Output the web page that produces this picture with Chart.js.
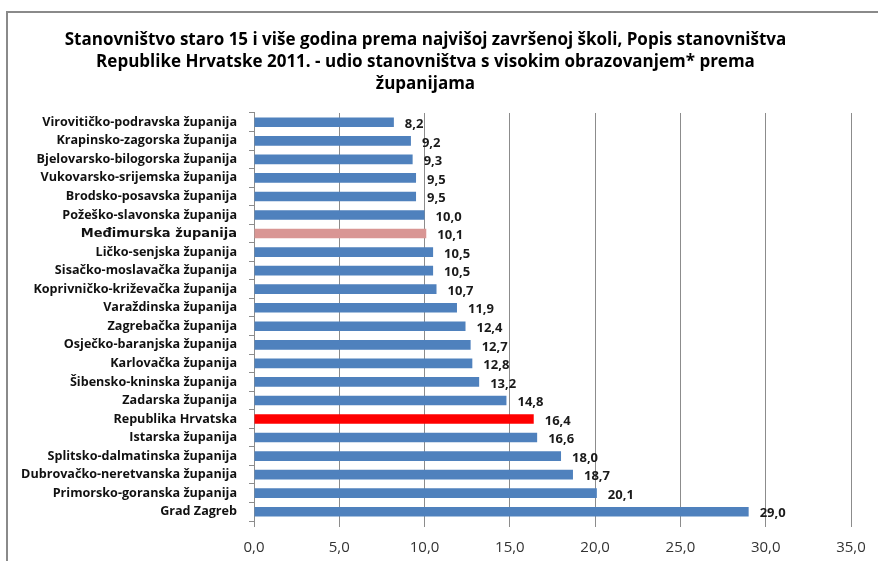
<!DOCTYPE html>
<html>
<head>
<meta charset="utf-8">
<script src="https://cdn.jsdelivr.net/npm/chart.js@4.4.0/dist/chart.umd.min.js"></script>
<style>
  html, body { margin: 0; padding: 0; background: #fff; overflow: hidden; }
  #wrap { position: relative; width: 878px; height: 561px; }
  #frame {
    position: absolute; left: 6px; top: 11px; width: 900px; height: 600px;
    border-left: 2px solid #8a8a8a; border-top: 2px solid #8a8a8a;
    pointer-events: none;
  }
</style>
</head>
<body>
<div id="wrap">
  <canvas id="grafico" width="878" height="561"></canvas>
  <div id="frame"></div>
</div>
<script>
const titleLines = [
  "Stanovništvo staro 15 i više godina prema najvišoj završenoj školi, Popis stanovništva",
  "Republike Hrvatske 2011. - udio stanovništva s visokim obrazovanjem* prema",
  "županijama"
];

const zupanije = [
  "Virovitičko-podravska županija",
  "Krapinsko-zagorska županija",
  "Bjelovarsko-bilogorska županija",
  "Vukovarsko-srijemska županija",
  "Brodsko-posavska županija",
  "Požeško-slavonska županija",
  "Međimurska županija",
  "Ličko-senjska županija",
  "Sisačko-moslavačka županija",
  "Koprivničko-križevačka županija",
  "Varaždinska županija",
  "Zagrebačka županija",
  "Osječko-baranjska županija",
  "Karlovačka županija",
  "Šibensko-kninska županija",
  "Zadarska županija",
  "Republika Hrvatska",
  "Istarska županija",
  "Splitsko-dalmatinska županija",
  "Dubrovačko-neretvanska županija",
  "Primorsko-goranska županija",
  "Grad Zagreb"
];

const udio = [8.2, 9.2, 9.3, 9.5, 9.5, 10.0, 10.1, 10.5, 10.5, 10.7, 11.9, 12.4, 12.7, 12.8, 13.2, 14.8, 16.4, 16.6, 18.0, 18.7, 20.1, 29.0];

const xTicks = [0, 5, 10, 15, 20, 25, 30, 35];

const fmt = v => Number(v).toFixed(1).replace(".", ",");

const barColors = zupanije.map(name => {
  if (name === "Republika Hrvatska") return "#ff0000";
  if (name === "Međimurska županija") return "#d99694";
  return "#4f81bd";
});

// value labels to the right of each bar
const valueLabels = {
  id: "valueLabels",
  afterDatasetsDraw(chart) {
    const ctx = chart.ctx;
    const meta = chart.getDatasetMeta(0);
    ctx.save();
    ctx.font = "bold 13px 'Open Sans'";
    ctx.fillStyle = "#1a1a1a";
    ctx.textAlign = "left";
    ctx.textBaseline = "middle";
    meta.data.forEach((bar, i) => {
      ctx.fillText(fmt(udio[i]), bar.x + 11, bar.y + 2);
    });
    ctx.restore();
  }
};

new Chart(document.getElementById("grafico"), {
  type: "bar",
  data: {
    labels: zupanije,
    datasets: [{
      data: udio,
      backgroundColor: barColors,
      barPercentage: 0.52,
      categoryPercentage: 1
    }]
  },
  options: {
    indexAxis: "y",
    responsive: false,
    animation: false,
    layout: { padding: { left: 0, right: 27, top: 0, bottom: 0 } },
    plugins: {
      legend: { display: false },
      tooltip: { enabled: false },
      title: {
        display: true,
        text: titleLines,
        color: "#000",
        font: { family: "'Open Sans'", size: 17, weight: "bold", lineHeight: 1.294 },
        padding: { top: 29, bottom: 18 }
      }
    },
    scales: {
      x: {
        min: 0,
        max: 35,
        afterBuildTicks(scale) {
          scale.ticks = xTicks.map(v => ({ value: v }));
        },
        afterFit(scale) { scale.height = 40; },
        border: { display: false },
        grid: { color: "#8c8c8c", lineWidth: 1, tickLength: 6 },
        ticks: {
          callback: v => fmt(v),
          color: "#333",
          padding: 12,
          font: { family: "'Open Sans'", size: 15 }
        }
      },
      y: {
        afterFit(scale) { scale.width = 254; },
        border: { display: true, color: "#8c8c8c", width: 1 },
        grid: { drawOnChartArea: false, drawTicks: true, tickLength: 5, color: "#8c8c8c", offset: true },
        ticks: {
          color: "#111",
          padding: 12,
          autoSkip: false,
          font: ctx => {
            if (zupanije[ctx.index] === "Međimurska županija") {
              return { family: "'DejaVu Sans'", size: 13, weight: "bold" };
            }
            return { family: "'Open Sans'", size: 12.6, weight: "bold" };
          }
        }
      }
    }
  },
  plugins: [valueLabels]
});
</script>
</body>
</html>
